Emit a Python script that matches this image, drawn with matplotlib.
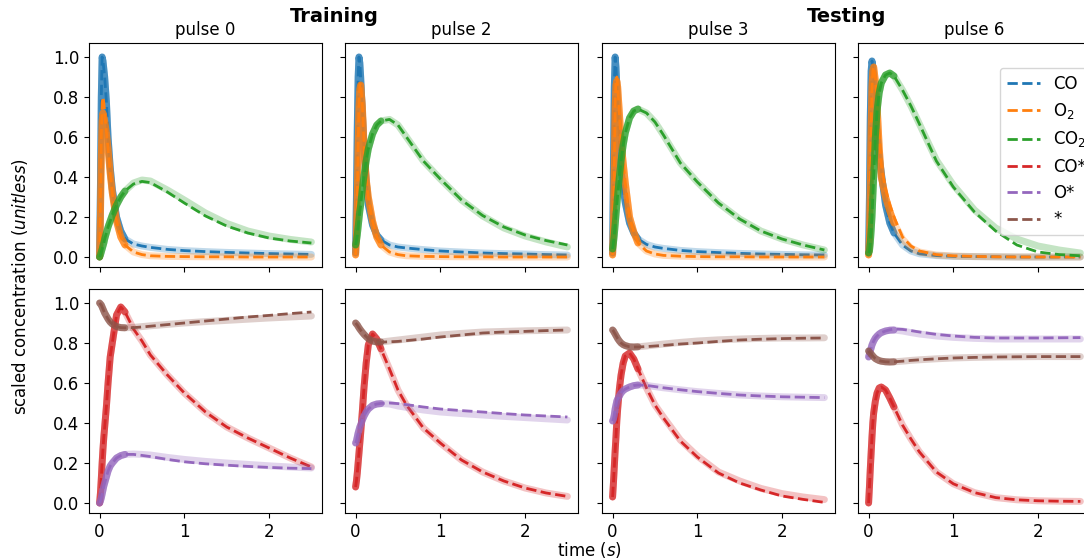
import matplotlib
matplotlib.use("Agg")
import matplotlib.pyplot as plt
import numpy as np

# sample times (s)
t = [0, 0.01, 0.02, 0.03, 0.04, 0.05, 0.06, 0.08, 0.1, 0.125, 0.15, 0.2, 0.25,
     0.3, 0.4, 0.5, 0.6, 0.8, 1.0, 1.25, 1.5, 1.75, 2.0, 2.25, 2.5]

species = ["CO", "O$_2$", "CO$_2$", "CO*", "O*", "*"]
colors = ["tab:blue", "tab:orange", "tab:green", "tab:red", "tab:purple", "tab:brown"]
pulse_names = ["pulse 0", "pulse 2", "pulse 3", "pulse 6"]

# ---- pulse 0 (measured / fitted) ----
co_p0 = [0, 0.35, 0.8, 1.0, 0.98, 0.94, 0.9, 0.78, 0.6, 0.45, 0.34, 0.2, 0.13,
         0.09, 0.065, 0.055, 0.048, 0.038, 0.032, 0.027, 0.023, 0.02, 0.017, 0.015, 0.013]
o2_p0 = [0, 0.2, 0.5, 0.68, 0.72, 0.7, 0.68, 0.62, 0.54, 0.42, 0.32, 0.18, 0.1,
         0.06, 0.025, 0.012, 0.006, 0.003, 0.002, 0.001, 0.001, 0, 0, 0, 0]
o2_p0_fit = [0, 0.25, 0.6, 0.77, 0.8, 0.77, 0.72, 0.63, 0.54, 0.42, 0.32, 0.18, 0.1,
             0.06, 0.025, 0.012, 0.006, 0.003, 0.002, 0.001, 0.001, 0, 0, 0, 0]
co2_p0 = [0, 0.01, 0.025, 0.04, 0.055, 0.07, 0.09, 0.12, 0.15, 0.18, 0.21, 0.26, 0.3,
          0.33, 0.37, 0.385, 0.38, 0.335, 0.285, 0.22, 0.168, 0.13, 0.105, 0.088, 0.075]
co2_p0_fit = [0, 0.01, 0.025, 0.04, 0.055, 0.07, 0.09, 0.12, 0.15, 0.18, 0.21, 0.26, 0.3,
              0.33, 0.365, 0.378, 0.372, 0.325, 0.27, 0.205, 0.155, 0.12, 0.095, 0.08, 0.07]
cos_p0 = [0, 0.05, 0.12, 0.2, 0.27, 0.33, 0.38, 0.48, 0.6, 0.73, 0.8, 0.94, 0.98,
          0.955, 0.87, 0.81, 0.74, 0.64, 0.55, 0.455, 0.38, 0.325, 0.275, 0.225, 0.18]
os_p0 = [0, 0.01, 0.025, 0.045, 0.065, 0.085, 0.1, 0.13, 0.16, 0.185, 0.2, 0.225, 0.237,
         0.243, 0.245, 0.243, 0.24, 0.228, 0.218, 0.208, 0.2, 0.193, 0.186, 0.18, 0.175]
os_p0_fit = [0, 0.01, 0.025, 0.045, 0.065, 0.085, 0.1, 0.13, 0.16, 0.185, 0.2, 0.225, 0.237,
             0.243, 0.243, 0.238, 0.232, 0.218, 0.206, 0.196, 0.189, 0.183, 0.178, 0.174, 0.172]
vac_p0 = [1.0, 0.995, 0.99, 0.98, 0.97, 0.96, 0.95, 0.935, 0.92, 0.905, 0.895, 0.882, 0.877,
          0.876, 0.878, 0.882, 0.886, 0.893, 0.9, 0.907, 0.913, 0.919, 0.925, 0.93, 0.935]
vac_p0_fit = [1.0, 0.995, 0.99, 0.98, 0.97, 0.96, 0.95, 0.935, 0.92, 0.905, 0.895, 0.882, 0.877,
              0.876, 0.877, 0.88, 0.884, 0.892, 0.9, 0.91, 0.92, 0.93, 0.938, 0.947, 0.955]

# ---- pulse 2 ----
co_p2 = [0.02, 0.3, 0.65, 0.9, 1.0, 0.97, 0.9, 0.72, 0.54, 0.38, 0.26, 0.16, 0.11,
         0.085, 0.06, 0.05, 0.045, 0.037, 0.03, 0.025, 0.02, 0.017, 0.015, 0.012, 0.01]
o2_p2 = [0.01, 0.1, 0.3, 0.55, 0.75, 0.84, 0.86, 0.75, 0.55, 0.39, 0.3, 0.18, 0.1,
         0.06, 0.025, 0.012, 0.006, 0.003, 0.002, 0.001, 0.001, 0, 0, 0, 0]
o2_p2_fit = [0.01, 0.1, 0.3, 0.56, 0.77, 0.86, 0.87, 0.76, 0.56, 0.39, 0.3, 0.18, 0.1,
             0.06, 0.025, 0.012, 0.006, 0.003, 0.002, 0.001, 0.001, 0, 0, 0, 0]
co2_p2 = [0.06, 0.08, 0.11, 0.15, 0.19, 0.23, 0.26, 0.34, 0.41, 0.48, 0.54, 0.615, 0.66,
          0.68, 0.688, 0.66, 0.6, 0.48, 0.39, 0.285, 0.205, 0.145, 0.105, 0.075, 0.05]
co2_p2_fit = [0.06, 0.08, 0.11, 0.15, 0.19, 0.23, 0.26, 0.34, 0.41, 0.48, 0.54, 0.615, 0.66,
              0.68, 0.688, 0.66, 0.6, 0.48, 0.39, 0.285, 0.207, 0.15, 0.11, 0.082, 0.06]
cos_p2 = [0.08, 0.11, 0.15, 0.2, 0.25, 0.3, 0.35, 0.46, 0.58, 0.7, 0.79, 0.845, 0.82,
          0.77, 0.67, 0.565, 0.49, 0.375, 0.3, 0.215, 0.155, 0.11, 0.075, 0.05, 0.033]
os_p2 = [0.3, 0.31, 0.33, 0.35, 0.365, 0.38, 0.39, 0.415, 0.435, 0.455, 0.47, 0.488, 0.495,
         0.497, 0.495, 0.485, 0.478, 0.465, 0.455, 0.447, 0.44, 0.433, 0.427, 0.421, 0.415]
os_p2_fit = [0.3, 0.31, 0.33, 0.35, 0.365, 0.38, 0.39, 0.415, 0.435, 0.455, 0.47, 0.488, 0.495,
             0.498, 0.5, 0.497, 0.492, 0.48, 0.47, 0.462, 0.455, 0.447, 0.44, 0.435, 0.43]
vac_p2 = [0.9, 0.895, 0.89, 0.883, 0.876, 0.87, 0.864, 0.853, 0.843, 0.832, 0.822, 0.81, 0.805,
          0.805, 0.81, 0.815, 0.82, 0.83, 0.84, 0.848, 0.855, 0.858, 0.861, 0.863, 0.865]
vac_p2_fit = [0.9, 0.895, 0.89, 0.883, 0.876, 0.87, 0.864, 0.853, 0.843, 0.832, 0.822, 0.81, 0.805,
              0.804, 0.806, 0.808, 0.812, 0.82, 0.83, 0.84, 0.85, 0.855, 0.858, 0.862, 0.865]

# ---- pulse 3 ----
co_p3 = [0.02, 0.45, 0.85, 1.0, 0.95, 0.85, 0.74, 0.58, 0.44, 0.34, 0.27, 0.17, 0.12,
         0.09, 0.063, 0.05, 0.043, 0.033, 0.027, 0.022, 0.018, 0.015, 0.013, 0.011, 0.01]
o2_p3 = [0.01, 0.15, 0.45, 0.75, 0.86, 0.88, 0.85, 0.72, 0.58, 0.47, 0.37, 0.2, 0.125,
         0.07, 0.03, 0.015, 0.008, 0.004, 0.002, 0.001, 0.001, 0, 0, 0, 0]
o2_p3_fit = [0.01, 0.15, 0.46, 0.77, 0.89, 0.9, 0.86, 0.72, 0.58, 0.47, 0.37, 0.2, 0.125,
             0.07, 0.03, 0.015, 0.008, 0.004, 0.002, 0.001, 0.001, 0, 0, 0, 0]
co2_p3 = [0.04, 0.07, 0.11, 0.16, 0.21, 0.26, 0.31, 0.4, 0.48, 0.56, 0.62, 0.695, 0.73,
          0.74, 0.72, 0.675, 0.61, 0.47, 0.375, 0.27, 0.19, 0.13, 0.09, 0.06, 0.035]
cos_p3 = [0.03, 0.1, 0.18, 0.26, 0.33, 0.41, 0.47, 0.57, 0.64, 0.7, 0.735, 0.75, 0.72,
          0.67, 0.575, 0.49, 0.43, 0.315, 0.235, 0.155, 0.11, 0.073, 0.047, 0.03, 0.017]
cos_p3_fit = [0.03, 0.1, 0.18, 0.26, 0.33, 0.41, 0.47, 0.57, 0.64, 0.7, 0.735, 0.75, 0.72,
              0.67, 0.575, 0.49, 0.425, 0.31, 0.23, 0.15, 0.1, 0.065, 0.035, 0.018, 0.003]
os_p3 = [0.41, 0.42, 0.44, 0.47, 0.49, 0.51, 0.52, 0.535, 0.55, 0.562, 0.57, 0.58, 0.587,
         0.59, 0.588, 0.582, 0.576, 0.566, 0.557, 0.548, 0.54, 0.535, 0.531, 0.529, 0.527]
vac_p3 = [0.865, 0.86, 0.852, 0.845, 0.837, 0.83, 0.822, 0.81, 0.8, 0.792, 0.787, 0.781, 0.78,
          0.781, 0.785, 0.79, 0.795, 0.803, 0.81, 0.816, 0.82, 0.823, 0.825, 0.825, 0.826]
vac_p3_fit = [0.865, 0.86, 0.852, 0.845, 0.837, 0.83, 0.822, 0.81, 0.8, 0.792, 0.787, 0.781, 0.78,
              0.78, 0.782, 0.785, 0.788, 0.795, 0.8, 0.808, 0.815, 0.819, 0.822, 0.824, 0.825]

# ---- pulse 6 ----
co_p6 = [0.02, 0.3, 0.7, 0.93, 0.98, 0.95, 0.9, 0.78, 0.62, 0.5, 0.42, 0.26, 0.17,
         0.12, 0.06, 0.03, 0.016, 0.007, 0.003, 0.002, 0.001, 0, 0, 0, 0]
o2_p6 = [0.01, 0.1, 0.35, 0.65, 0.85, 0.93, 0.95, 0.88, 0.76, 0.55, 0.4, 0.3, 0.23,
         0.17, 0.09, 0.045, 0.025, 0.01, 0.005, 0.002, 0.001, 0, 0, 0, 0]
o2_p6_fit = [0.01, 0.1, 0.35, 0.65, 0.85, 0.93, 0.95, 0.9, 0.8, 0.62, 0.46, 0.34, 0.26,
             0.2, 0.1, 0.055, 0.03, 0.012, 0.006, 0.003, 0.001, 0, 0, 0, 0]
co2_p6 = [0.02, 0.03, 0.07, 0.13, 0.2, 0.3, 0.4, 0.6, 0.73, 0.82, 0.87, 0.91, 0.92,
          0.905, 0.835, 0.755, 0.665, 0.485, 0.36, 0.235, 0.145, 0.09, 0.055, 0.035, 0.02]
co2_p6_fit = [0.02, 0.03, 0.07, 0.13, 0.2, 0.3, 0.4, 0.6, 0.73, 0.82, 0.87, 0.91, 0.92,
              0.905, 0.835, 0.755, 0.665, 0.48, 0.35, 0.225, 0.13, 0.06, 0.025, 0.012, 0.006]
cos_p6 = [0.0, 0.08, 0.17, 0.25, 0.33, 0.4, 0.45, 0.51, 0.55, 0.575, 0.58, 0.565, 0.525,
          0.48, 0.39, 0.32, 0.255, 0.155, 0.096, 0.052, 0.027, 0.016, 0.011, 0.009, 0.008]
os_p6 = [0.73, 0.745, 0.76, 0.775, 0.79, 0.8, 0.81, 0.825, 0.835, 0.845, 0.852, 0.86, 0.864,
         0.865, 0.86, 0.852, 0.845, 0.835, 0.828, 0.823, 0.82, 0.82, 0.82, 0.82, 0.82]
os_p6_fit = [0.73, 0.745, 0.76, 0.775, 0.79, 0.8, 0.81, 0.825, 0.835, 0.845, 0.852, 0.86, 0.866,
             0.87, 0.868, 0.862, 0.855, 0.843, 0.835, 0.828, 0.825, 0.825, 0.825, 0.826, 0.827]
vac_p6 = [0.76, 0.755, 0.75, 0.745, 0.74, 0.735, 0.73, 0.722, 0.717, 0.712, 0.709, 0.706, 0.705,
          0.706, 0.709, 0.713, 0.716, 0.721, 0.725, 0.728, 0.73, 0.731, 0.732, 0.732, 0.732]

measured = [
    [co_p0, o2_p0, co2_p0, cos_p0, os_p0, vac_p0],
    [co_p2, o2_p2, co2_p2, cos_p2, os_p2, vac_p2],
    [co_p3, o2_p3, co2_p3, cos_p3, os_p3, vac_p3],
    [co_p6, o2_p6, co2_p6, cos_p6, os_p6, vac_p6],
]
fitted = [
    [co_p0, o2_p0_fit, co2_p0_fit, cos_p0, os_p0_fit, vac_p0_fit],
    [co_p2, o2_p2_fit, co2_p2_fit, cos_p2, os_p2_fit, vac_p2_fit],
    [co_p3, o2_p3_fit, co2_p3, cos_p3_fit, os_p3, vac_p3_fit],
    [co_p6, o2_p6_fit, co2_p6_fit, cos_p6, os_p6_fit, vac_p6],
]

plt.rcParams["font.size"] = 12
fig = plt.figure(figsize=(10.84, 5.6), dpi=100)

W, H = 1084, 560
lefts = [89, 345, 602, 858]
tops = [43, 289]
aw, ah = 233, 224
axes = np.empty((2, 4), dtype=object)
for r in range(2):
    for c in range(4):
        kw = {}
        if r > 0 or c > 0:
            kw["sharex"] = axes[0, 0]
            kw["sharey"] = axes[0, 0]
        axes[r, c] = fig.add_axes([lefts[c] / W, 1 - (tops[r] + ah) / H, aw / W, ah / H], **kw)

tt = np.array(t)
early = tt <= 0.3
handles = [None] * 6
for c in range(4):
    for k in range(6):
        r = 0 if k < 3 else 1
        ax = axes[r, c]
        y = np.array(measured[c][k])
        # measurement band: dense early samples look solid, later ones faint
        ax.plot(tt, y, color=colors[k], lw=5, alpha=0.28, solid_capstyle="round")
        ax.plot(tt[early], y[early], color=colors[k], lw=5, alpha=0.75, solid_capstyle="round")
        line, = ax.plot(tt, fitted[c][k], color=colors[k], lw=2, ls="--")
        handles[k] = line

for c in range(4):
    axes[0, c].set_title(pulse_names[c], fontsize=12)
    for r in range(2):
        ax = axes[r, c]
        ax.set_xlim(-0.125, 2.625)
        ax.set_ylim(-0.05, 1.07)
        ax.set_xticks([0, 1, 2])
        ax.set_yticks([0, 0.2, 0.4, 0.6, 0.8, 1.0])
        ax.tick_params(labelsize=12)
        if r == 0:
            ax.tick_params(labelbottom=False)
        if c > 0:
            ax.tick_params(labelleft=False)

axes[0, 3].legend(handles, species, loc="upper left", bbox_to_anchor=((1000 - 858) / aw, (267 - 68) / ah),
                  borderaxespad=0, fontsize=12)

fig.text(334 / W, 1 - 16 / H, "Training", ha="center", va="center", fontsize=14, fontweight="bold")
fig.text(847 / W, 1 - 16 / H, "Testing", ha="center", va="center", fontsize=14, fontweight="bold")
fig.text(20 / W, 1 - 286 / H, "scaled concentration ($\\it{unitless}$)", rotation=90,
         ha="center", va="center", fontsize=12)
fig.text(590 / W, 1 - 550 / H, "time ($\\it{s}$)", ha="center", va="center", fontsize=12)

fig.savefig("out.png", dpi=100)
